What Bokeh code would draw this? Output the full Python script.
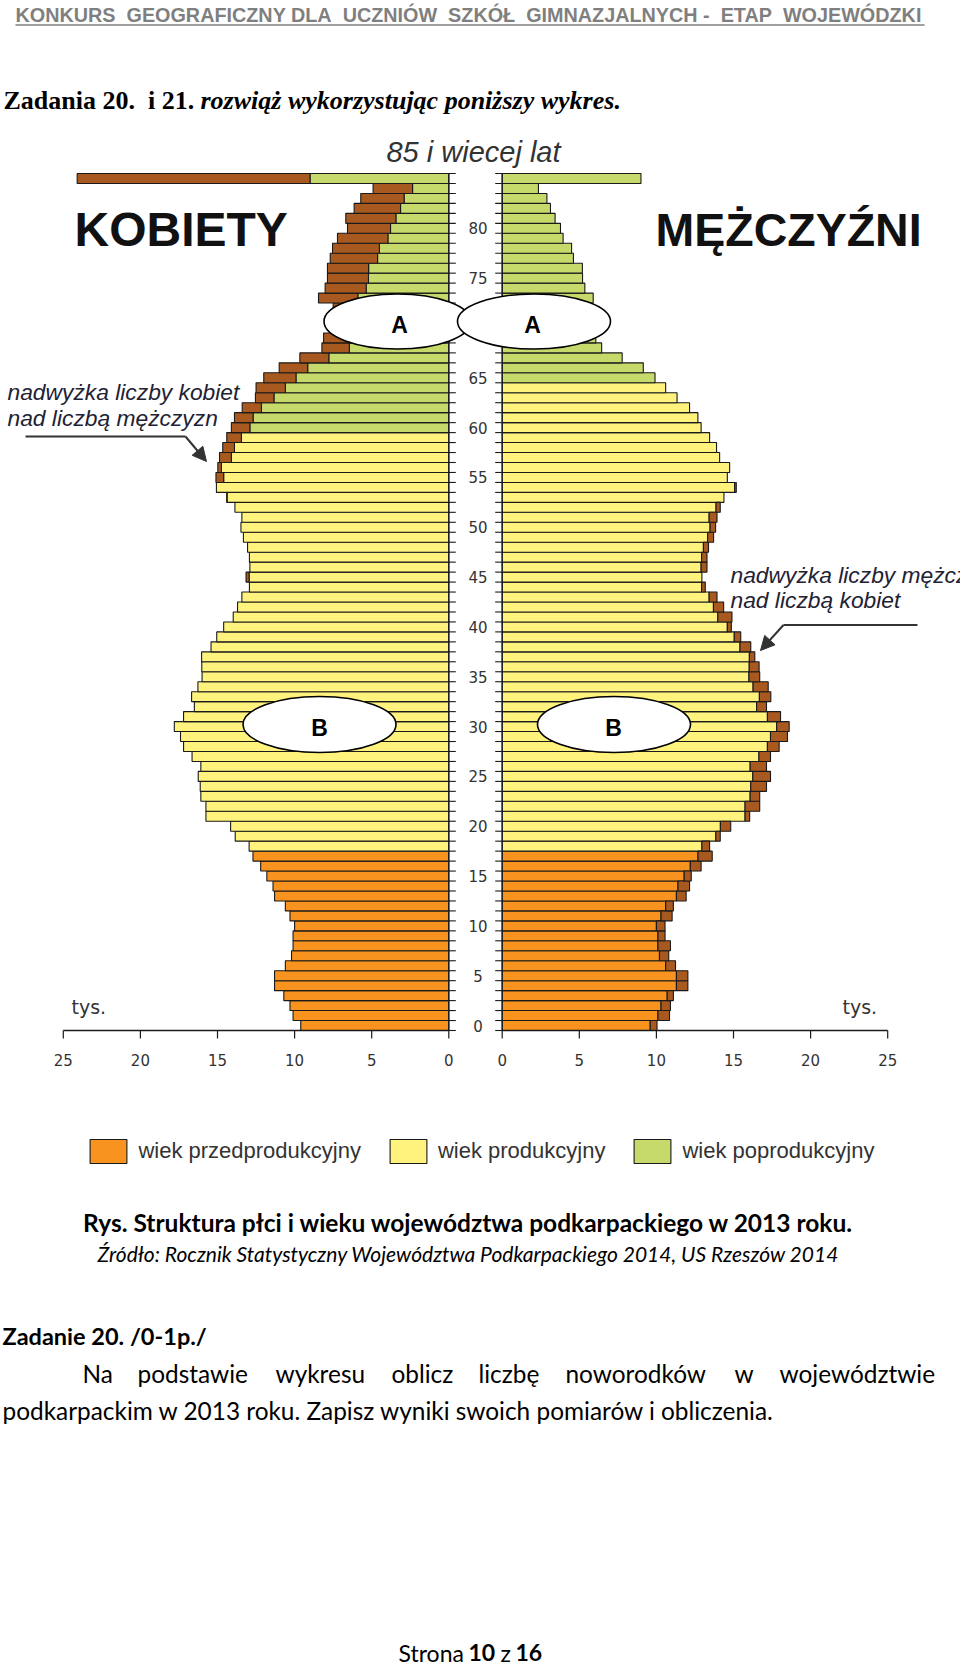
from bokeh.plotting import figure
from bokeh.models import (Range1d, ColumnDataSource, Legend, LegendItem, Arrow, NormalHead)
from bokeh.core.properties import value
from bokeh.embed import file_html
from bokeh.resources import INLINE

# ---------------- data (thousands of people, age 0..85+) ----------------
ages = list(range(86))
women = [9.6, 10.1, 10.3, 10.7, 11.3, 11.3, 10.6, 10.2, 10.1, 10.1,
         10.0, 10.3, 10.6, 11.3, 11.4, 11.8, 12.2, 12.7, 12.95, 13.85,
         14.15, 15.75, 15.75, 16.08, 16.12, 16.25, 16.08, 16.65, 17.2, 17.4,
         17.8, 17.2, 16.5, 16.68, 16.27, 16.0, 16.02, 16.03, 15.42, 15.05,
         14.6, 13.98, 13.7, 13.42, 12.93, 13.15, 12.9, 12.93, 13.05, 13.32,
         13.48, 13.42, 13.87, 14.4, 15.07, 15.1, 14.98, 14.87, 14.66, 14.4,
         14.1, 13.9, 13.4, 12.54, 12.5, 12.0, 11.0, 9.66, 8.23, 8.12,
         7.3, 7.0, 7.5, 8.45, 8.02, 7.87, 7.87, 7.69, 7.54, 7.22,
         6.57, 6.68, 6.14, 5.71, 4.91, 24.1]
men = [10.04, 10.85, 10.91, 11.1, 12.04, 12.04, 11.24, 10.8, 10.91, 10.56,
       10.56, 11.02, 11.1, 11.93, 12.15, 12.26, 12.9, 13.62, 13.45, 14.14,
       14.82, 16.05, 16.7, 16.7, 17.14, 17.4, 17.14, 17.4, 17.96, 18.5,
       18.61, 18.05, 17.14, 17.42, 17.25, 16.7, 16.66, 16.38, 16.12, 15.47,
       14.86, 14.9, 14.36, 13.93, 13.17, 12.95, 13.28, 13.28, 13.38, 13.71,
       13.84, 13.93, 14.14, 14.38, 15.18, 14.6, 14.75, 14.1, 13.9, 13.45,
       12.9, 12.69, 12.15, 11.34, 10.6, 9.91, 9.15, 7.78, 6.45, 6.07,
       5.3, 5.0, 5.5, 5.9, 5.36, 5.21, 5.2, 4.62, 4.5, 3.95,
       3.78, 3.43, 3.13, 2.9, 2.35, 9.0]
age_tick_labels = [0, 5, 10, 15, 20, 25, 30, 35, 40, 45, 50, 55, 60, 65, 70, 75, 80]
x_tick_labels = [0, 5, 10, 15, 20, 25]
categories = ["wiek przedprodukcyjny", "wiek produkcyjny", "wiek poprodukcyjny"]
women_age_limits = [18, 60]   # productive age start / post-productive start
men_age_limits = [18, 65]
cat_colors = ["#F7931E", "#FFF37E", "#C6DA6B"]
excess_color = "#A8591F"

# ---------------- geometry (scale of the drawing) ----------------
W, H = 960, 1665
PX_PER_K = 15.42      # px per thousand
PX_PER_AGE = 9.965    # px per one-year bar
CENTER = 475.0        # page x of the pyramid's centre
BASE_Y = 1030.0       # page y of the age-0 baseline
GAP = 26.7 / PX_PER_K  # half gap between the two halves (in thousands)
TICK = 7 / PX_PER_K
XTICK = 8 / PX_PER_AGE


def category(age, limits):
    if age < limits[0]:
        return 0
    if age < limits[1]:
        return 1
    return 2


srcs = [dict(y=[], left=[], right=[]) for _ in range(3)]
exc = dict(y=[], left=[], right=[])
for a, w, m in zip(ages, women, men):
    lo = min(w, m)
    yc = a + 0.5
    cw = category(a, women_age_limits)
    cm = category(a, men_age_limits)
    srcs[cw]["y"].append(yc); srcs[cw]["left"].append(-(GAP + lo)); srcs[cw]["right"].append(-GAP)
    srcs[cm]["y"].append(yc); srcs[cm]["left"].append(GAP); srcs[cm]["right"].append(GAP + lo)
    if w > m:
        exc["y"].append(yc); exc["left"].append(-(GAP + w)); exc["right"].append(-(GAP + m))
    elif m > w:
        exc["y"].append(yc); exc["left"].append(GAP + w); exc["right"].append(GAP + m)

p = figure(width=W, height=H, x_range=Range1d(0, W), y_range=Range1d(H, 0),
           x_axis_location=None, y_axis_location=None, toolbar_location=None,
           output_backend="svg", min_border=0, outline_line_color=None,
           background_fill_color="white", border_fill_color="white")
p.grid.visible = False
p.extra_x_ranges = {"pyr": Range1d(-CENTER / PX_PER_K, (W - CENTER) / PX_PER_K)}
p.extra_y_ranges = {"age": Range1d(-(H - BASE_Y) / PX_PER_AGE, BASE_Y / PX_PER_AGE)}

OUT = "#1a1a1a"
rends = []
for i in range(3):
    r = p.hbar(y="y", left="left", right="right", height=1.0, source=ColumnDataSource(srcs[i]),
               fill_color=cat_colors[i], line_color=OUT, line_width=1.1,
               x_range_name="pyr", y_range_name="age")
    rends.append(r)
p.hbar(y="y", left="left", right="right", height=1.0, source=ColumnDataSource(exc),
       fill_color=excess_color, line_color=OUT, line_width=1.1,
       x_range_name="pyr", y_range_name="age")

# centre (age) axes: lines, ticks at every bar boundary, labels every 5 years
n_top = len(ages)
p.segment(x0=[-GAP, GAP], y0=[0, 0], x1=[-GAP, GAP], y1=[n_top, n_top], line_color=OUT,
          line_width=1.3, x_range_name="pyr", y_range_name="age")
bounds = list(range(n_top + 1))
p.segment(x0=[-GAP] * len(bounds), y0=bounds, x1=[-GAP + TICK] * len(bounds), y1=bounds,
          line_color=OUT, line_width=1.1, x_range_name="pyr", y_range_name="age")
p.segment(x0=[GAP - TICK] * len(bounds), y0=bounds, x1=[GAP] * len(bounds), y1=bounds,
          line_color=OUT, line_width=1.1, x_range_name="pyr", y_range_name="age")
p.text(x=[2.5 / PX_PER_K] * len(age_tick_labels), y=[a + 0.5 for a in age_tick_labels],
       text=[str(a) for a in age_tick_labels], text_font=value("DejaVu Sans"),
       text_font_size="15px", text_color="#333333", text_align="center",
       text_baseline="middle", x_range_name="pyr", y_range_name="age")

# bottom value axes (women to the left, men to the right)
xmax = max(x_tick_labels)
p.segment(x0=[-(GAP + xmax), GAP], y0=[0, 0], x1=[-GAP, GAP + xmax], y1=[0, 0],
          line_color=OUT, line_width=1.3, x_range_name="pyr", y_range_name="age")
tick_x = [-(GAP + t) for t in x_tick_labels] + [GAP + t for t in x_tick_labels]
tick_txt = [str(t) for t in x_tick_labels] * 2
p.segment(x0=tick_x, y0=[0] * len(tick_x), x1=tick_x, y1=[-XTICK] * len(tick_x),
          line_color=OUT, line_width=1.2, x_range_name="pyr", y_range_name="age")
p.text(x=tick_x, y=[-29.5 / PX_PER_AGE] * len(tick_x), text=tick_txt,
       text_font=value("DejaVu Sans"), text_font_size="15px", text_color="#333333",
       text_align="center", text_baseline="middle", x_range_name="pyr", y_range_name="age")

# legend under the axis
legend = Legend(items=[LegendItem(label=categories[i], renderers=[rends[i]]) for i in range(3)],
                orientation="horizontal", location=(85.4, 499), margin=0, padding=0,
                spacing=24, glyph_width=46, glyph_height=30, label_standoff=7,
                label_text_font="Liberation Sans", label_text_font_size="22px",
                label_text_color="#333333", border_line_color=None, background_fill_alpha=0)
p.add_layout(legend)

# ellipses A / B
p.ellipse(x=[397, 533.5, 319, 613.5], y=[321, 321, 724, 724], width=[147, 153, 153, 153],
          height=[55, 55, 56, 56], fill_color="white", line_color="black", line_width=1.6)
p.text(x=[399, 532, 319, 613], y=[324, 324, 727, 727], text=["A", "A", "B", "B"],
       text_font=value("Liberation Sans"), text_font_style="bold", text_font_size="23px",
       text_color="black", text_align="center", text_baseline="middle")

# page header
HEADER = "KONKURS\u00a0 GEOGRAFICZNY DLA\u00a0 UCZNIÓW\u00a0 SZKÓŁ\u00a0 GIMNAZJALNYCH -\u00a0 ETAP\u00a0 WOJEWÓDZKI"
p.text(x=[15], y=[14], text=[HEADER], text_font=value("Liberation Sans"),
       text_font_style="bold", text_font_size="19.8px", text_color="#7f7f7f",
       text_align="left", text_baseline="middle")
p.segment(x0=[15], y0=[24.5], x1=[924], y1=[24.5], line_color="#7f7f7f", line_width=1.5)
p.text(x=[3], y=[100], text=["Zadania 20.\u00a0 i 21."], text_font=value("Liberation Serif"),
       text_font_style="bold", text_font_size="26px", text_color="black",
       text_align="left", text_baseline="middle")
p.text(x=[200], y=[100], text=["rozwiąż wykorzystując poniższy wykres."],
       text_font=value("Liberation Serif"), text_font_style="bold italic", text_font_size="26px",
       text_color="black", text_align="left", text_baseline="middle")

p.text(x=[473], y=[151], text=["85 i wiecej lat"], text_font=value("Liberation Sans"),
       text_font_style="italic", text_font_size="29px", text_color="#333333",
       text_align="center", text_baseline="middle")
p.text(x=[74], y=[229], text=["KOBIETY"], text_font=value("Liberation Sans"),
       text_font_style="bold", text_font_size="48px", text_color="#111111",
       text_align="left", text_baseline="middle")
p.text(x=[655], y=[229], text=["MĘŻCZYŹNI"], text_font=value("Liberation Sans"),
       text_font_style="bold", text_font_size="46.5px", text_color="#111111",
       text_align="left", text_baseline="middle")
p.text(x=[71, 842], y=[1006, 1006], text=["tys.", "tys."], text_font=value("DejaVu Sans"),
       text_font_size="19px", text_color="#333333", text_align="left", text_baseline="middle")

ANN = "#222233"
p.text(x=[7, 7], y=[391, 417], text=["nadwyżka liczby kobiet", "nad liczbą mężczyzn"],
       text_font=value("Liberation Sans"), text_font_style="italic", text_font_size="22.8px",
       text_color=ANN, text_align="left", text_baseline="middle")
p.text(x=[730, 730], y=[574, 599], text=["nadwyżka liczby mężczyzn", "nad liczbą kobiet"],
       text_font=value("Liberation Sans"), text_font_style="italic", text_font_size="22.8px",
       text_color=ANN, text_align="left", text_baseline="middle")
p.line(x=[25, 185], y=[436, 436], line_color="#333333", line_width=2)
p.add_layout(Arrow(end=NormalHead(size=14, fill_color="#333333", line_color="#333333"),
                   x_start=185, y_start=436, x_end=206, y_end=461,
                   line_color="#333333", line_width=2))
p.line(x=[917, 783], y=[624.5, 624.5], line_color="#333333", line_width=2)
p.add_layout(Arrow(end=NormalHead(size=14, fill_color="#333333", line_color="#333333"),
                   x_start=783, y_start=624.5, x_end=760, y_end=650,
                   line_color="#333333", line_width=2))

# ---------------- lower page text ----------------
BODY = "Lato"
p.text(x=[468], y=[1222], text=["Rys. Struktura płci i wieku województwa podkarpackiego w 2013 roku."],
       text_font=value(BODY), text_font_style="bold", text_font_size="24.5px", text_color="black",
       text_align="center", text_baseline="middle")
p.text(x=[468], y=[1253], text=["Źródło: Rocznik Statystyczny Województwa Podkarpackiego 2014, US Rzeszów 2014"],
       text_font=value(BODY), text_font_style="italic", text_font_size="21px", text_color="black",
       text_align="center", text_baseline="middle")
p.text(x=[2], y=[1335], text=["Zadanie 20. /0-1p./"], text_font=value(BODY), text_font_style="bold",
       text_font_size="23.5px", text_color="black", text_align="left", text_baseline="middle")
words = ["Na", "podstawie", "wykresu", "oblicz", "liczbę", "noworodków", "w", "województwie"]
word_x = [82, 137, 275, 391, 478, 565, 734, 779]
p.text(x=word_x, y=[1373] * len(words), text=words, text_font=value(BODY),
       text_font_size="24.4px", text_color="black", text_align="left", text_baseline="middle")
p.text(x=[2], y=[1410], text=["podkarpackim w 2013 roku. Zapisz wyniki swoich pomiarów i obliczenia."],
       text_font=value(BODY), text_font_size="24.4px", text_color="black",
       text_align="left", text_baseline="middle")
p.text(x=[398, 500], y=[1652, 1652], text=["Strona", "z"], text_font=value(BODY),
       text_font_size="23px", text_color="black", text_align="left", text_baseline="middle")
p.text(x=[468, 515], y=[1652, 1652], text=["10", "16"], text_font=value(BODY), text_font_style="bold",
       text_font_size="23px", text_color="black", text_align="left", text_baseline="middle")

open("out.html", "w").write(file_html(p, INLINE))
